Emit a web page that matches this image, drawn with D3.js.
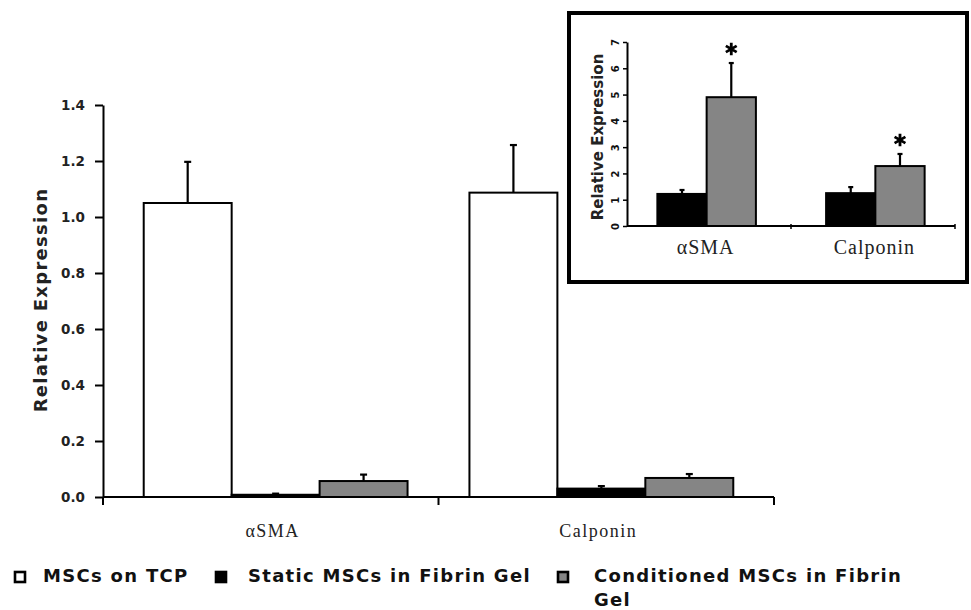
<!DOCTYPE html>
<html>
<head>
<meta charset="utf-8">
<script src="https://cdn.jsdelivr.net/npm/d3@7"></script>
<style>
  html, body { margin: 0; padding: 0; background: #fff; }
  svg { display: block; }
</style>
</head>
<body>
<svg id="chart" width="971" height="610"></svg>
<script>
// ---------- data ----------
const categories = ["αSMA", "Calponin"];
const seriesNames = ["MSCs on TCP", "Static MSCs in Fibrin Gel", "Conditioned MSCs in Fibrin Gel"];
const seriesFill = ["#ffffff", "#000000", "#858585"];

// main chart: values per series, per category
const tcpValues = [1.05, 1.087];
const staticValues = [0.008, 0.030];
const conditionedValues = [0.057, 0.068];
const tcpErrors = [0.147, 0.17];
const staticErrors = [0.004, 0.009];
const conditionedErrors = [0.023, 0.014];
const mainTicks = [0, 0.2, 0.4, 0.6, 0.8, 1.0, 1.2, 1.4];

// inset: static and conditioned only
const insetStaticValues = [1.22, 1.25];
const insetConditionedValues = [4.9, 2.28];
const insetStaticErrors = [0.15, 0.23];
const insetConditionedErrors = [1.3, 0.46];
const insetSignificant = [true, true];
const insetTicks = [0, 1, 2, 3, 4, 5, 6, 7];

// ---------- drawing ----------
const svg = d3.select("#chart");

function drawGroupedBars(g, xBand, y, valueSets, errorSets, fills, capHalf) {
  const n = valueSets.length;
  const bw = xBand.bandwidth() / n;
  valueSets.forEach((vals, s) => {
    categories.forEach((c, i) => {
      const x0 = xBand(c) + s * bw;
      const v = vals[i];
      const e = errorSets[s][i];
      const cx = x0 + bw / 2;
      g.append("line")
        .attr("x1", cx).attr("x2", cx)
        .attr("y1", y(v)).attr("y2", y(v + e))
        .attr("stroke", "#000").attr("stroke-width", 2.2);
      g.append("line")
        .attr("x1", cx - capHalf).attr("x2", cx + capHalf)
        .attr("y1", y(v + e)).attr("y2", y(v + e))
        .attr("stroke", "#000").attr("stroke-width", 2.2);
      g.append("rect")
        .attr("x", x0).attr("y", y(v))
        .attr("width", bw).attr("height", y(0) - y(v))
        .attr("fill", fills[s]).attr("stroke", "#000").attr("stroke-width", 2);
    });
  });
}

// ---- main chart ----
const mainLeft = 103, mainRight = 774;
const yMain = d3.scaleLinear().domain([0, 1.4]).range([497, 105]);
const xMain = d3.scaleBand().domain(categories).range([mainLeft, mainRight])
  .paddingInner(0.19).paddingOuter(0.125);

const main = svg.append("g");

drawGroupedBars(main, xMain, yMain,
  [tcpValues, staticValues, conditionedValues],
  [tcpErrors, staticErrors, conditionedErrors],
  seriesFill, 3.5);

// y axis
const yAxisG = main.append("g")
  .attr("transform", `translate(${mainLeft},0)`)
  .call(d3.axisLeft(yMain).tickValues(mainTicks).tickFormat(d3.format(".1f"))
    .tickSize(8).tickSizeOuter(0).tickPadding(10));
yAxisG.select(".domain").attr("stroke", "#000").attr("stroke-width", 2);
yAxisG.selectAll(".tick line").attr("stroke", "#000").attr("stroke-width", 2);
yAxisG.selectAll(".tick text")
  .attr("font-family", "DejaVu Sans, sans-serif")
  .attr("font-weight", "bold").attr("font-size", 13.5).attr("fill", "#222");
main.append("line")
  .attr("x1", mainLeft).attr("x2", mainLeft)
  .attr("y1", yMain(0)).attr("y2", yMain(0) + 8)
  .attr("stroke", "#000").attr("stroke-width", 2);

// x axis
main.append("line")
  .attr("x1", mainLeft).attr("x2", mainRight)
  .attr("y1", yMain(0)).attr("y2", yMain(0))
  .attr("stroke", "#000").attr("stroke-width", 2);
const mainBoundaries = [
  (xMain(categories[0]) + xMain.bandwidth() + xMain(categories[1])) / 2,
  mainRight
];
mainBoundaries.forEach(bx => {
  main.append("line")
    .attr("x1", bx).attr("x2", bx)
    .attr("y1", yMain(0)).attr("y2", yMain(0) + 8)
    .attr("stroke", "#000").attr("stroke-width", 2);
});
categories.forEach(c => {
  main.append("text")
    .attr("x", xMain(c) + xMain.bandwidth() / 2 - 3)
    .attr("y", 537)
    .attr("text-anchor", "middle")
    .attr("font-family", "Liberation Serif, serif")
    .attr("font-size", 18)
    .attr("letter-spacing", "1.5px")
    .attr("fill", "#222")
    .text(c);
});

// y title
main.append("text")
  .attr("transform", "translate(47,300) rotate(-90)")
  .attr("text-anchor", "middle")
  .attr("font-family", "DejaVu Sans, sans-serif")
  .attr("font-weight", "bold")
  .attr("font-size", 18)
  .attr("letter-spacing", "1.3px")
  .attr("fill", "#222")
  .text("Relative Expression");

// ---- legend ----
const legendItems = [
  { sx: 14, tx: 43 },
  { sx: 215, tx: 248 },
  { sx: 557, tx: 594 }
];
const legend = svg.append("g");
seriesNames.forEach((name, i) => {
  const it = legendItems[i];
  legend.append("rect")
    .attr("x", it.sx + 1).attr("y", 572)
    .attr("width", 10).attr("height", 10)
    .attr("fill", seriesFill[i]).attr("stroke", "#000").attr("stroke-width", 2.6);
  const t = legend.append("text")
    .attr("x", it.tx).attr("y", 582)
    .attr("font-family", "DejaVu Sans, sans-serif")
    .attr("font-weight", "bold")
    .attr("font-size", 18)
    .attr("letter-spacing", "1.3px")
    .attr("fill", "#111");
  if (i === 2) {
    t.append("tspan").attr("x", it.tx).attr("y", 582).text("Conditioned MSCs in Fibrin");
    t.append("tspan").attr("x", it.tx).attr("y", 606).text("Gel");
  } else {
    t.text(name);
  }
});

// ---- inset ----
const inset = svg.append("g");
inset.append("rect")
  .attr("x", 569).attr("y", 13).attr("width", 398).attr("height", 269)
  .attr("fill", "#fff").attr("stroke", "#000").attr("stroke-width", 4);

const inLeft = 627, inRight = 955;
const yIn = d3.scaleLinear().domain([0, 7]).range([226, 42]);
const xIn = d3.scaleBand().domain(categories).range([inLeft, inRight])
  .paddingInner(0.416).paddingOuter(0.18);

drawGroupedBars(inset, xIn, yIn,
  [insetStaticValues, insetConditionedValues],
  [insetStaticErrors, insetConditionedErrors],
  [seriesFill[1], seriesFill[2]], 2.5);

// stars
categories.forEach((c, i) => {
  if (!insetSignificant[i]) return;
  const bw = xIn.bandwidth() / 2;
  const cx = xIn(c) + bw * 1.5;
  const top = yIn(insetConditionedValues[i] + insetConditionedErrors[i]);
  inset.append("path")
    .attr("d", d3.symbol(d3.symbolAsterisk, 110)())
    .attr("transform", `translate(${cx},${top - 14})`)
    .attr("fill", "none").attr("stroke", "#000").attr("stroke-width", 2.8);
});

// inset y axis
const yInG = inset.append("g")
  .attr("transform", `translate(${inLeft},0)`)
  .call(d3.axisLeft(yIn).tickValues(insetTicks).tickFormat(d3.format("d"))
    .tickSize(4).tickSizeOuter(0).tickPadding(8));
yInG.select(".domain").attr("stroke", "#000").attr("stroke-width", 2);
yInG.selectAll(".tick line").attr("stroke", "#000").attr("stroke-width", 1.5);
yInG.selectAll(".tick text")
  .attr("x", 0).attr("y", 0).attr("dy", "0.35em")
  .attr("transform", "translate(-12,0) rotate(-90)")
  .attr("text-anchor", "middle")
  .attr("font-family", "DejaVu Sans, sans-serif")
  .attr("font-weight", "bold").attr("font-size", 10).attr("fill", "#111");

// inset x axis
inset.append("line")
  .attr("x1", inLeft).attr("x2", inRight)
  .attr("y1", yIn(0)).attr("y2", yIn(0))
  .attr("stroke", "#000").attr("stroke-width", 2);
const inBoundaries = [
  (xIn(categories[0]) + xIn.bandwidth() + xIn(categories[1])) / 2,
  inRight
];
inBoundaries.forEach(bx => {
  inset.append("line")
    .attr("x1", bx).attr("x2", bx)
    .attr("y1", yIn(0) - 2).attr("y2", yIn(0) + 3)
    .attr("stroke", "#000").attr("stroke-width", 1.5);
});
categories.forEach(c => {
  inset.append("text")
    .attr("x", xIn(c) + xIn.bandwidth() / 2 - 1)
    .attr("y", 254)
    .attr("text-anchor", "middle")
    .attr("font-family", "Liberation Serif, serif")
    .attr("font-size", 20)
    .attr("letter-spacing", "1px")
    .attr("fill", "#222")
    .text(c);
});

// inset y title
inset.append("text")
  .attr("transform", "translate(603,137) rotate(-90)")
  .attr("text-anchor", "middle")
  .attr("font-family", "DejaVu Sans, sans-serif")
  .attr("font-weight", "bold")
  .attr("font-size", 15)
  .attr("fill", "#222")
  .text("Relative Expression");
</script>
</body>
</html>
